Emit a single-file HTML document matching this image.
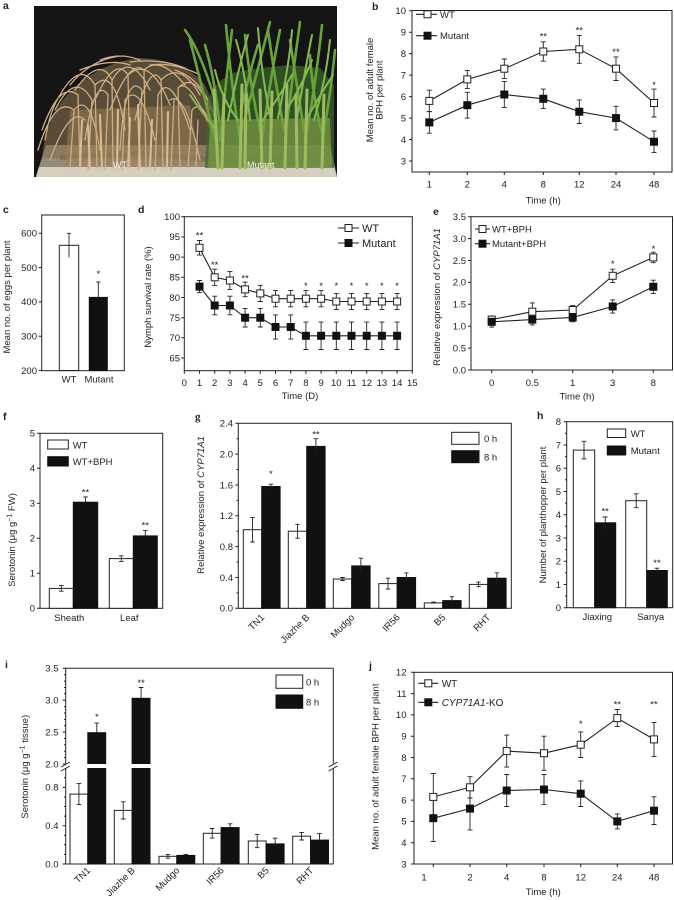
<!DOCTYPE html>
<html><head><meta charset="utf-8"><style>
html,body{margin:0;padding:0;background:#fff;}
svg{display:block;}
.ax{fill:none;stroke:#222;stroke-width:1;}
.eb{fill:none;stroke:#222;stroke-width:0.9;}
.ln{fill:none;stroke:#222;stroke-width:1.1;}
.w{fill:#fff;stroke:#222;stroke-width:1;}
.k{fill:#111;stroke:#111;stroke-width:1;}
.pl{font-weight:bold;font-size:10.5px;}
</style></head><body>
<svg width="674" height="900" viewBox="0 0 674 900" xmlns="http://www.w3.org/2000/svg" font-family="'Liberation Sans', Arial, sans-serif" font-size="9.5" fill="#222">

<!-- ============ PANEL A (photo) ============ -->
<text class="pl" x="3" y="9">a</text>
<g>
<rect x="34" y="6" width="303" height="171" fill="#141414"/>
<path d="M36,176 L337,176 L330,145 L46,145 Z" fill="#958a78"/>
<path d="M36,177 L337,177 L334,167 L39,167 Z" fill="#d6cfc0"/>
<path d="M60,158 Q120,150 180,157 T300,155" stroke="#6b5a40" stroke-width="5" fill="none" opacity="0.5"/>
<!-- WT haze -->
<path d="M42,158 Q46,115 70,92 Q100,62 140,58 Q185,60 205,85 Q218,110 216,160 Z" fill="#85704f" opacity="0.6"/>
<path d="M65,165 L70,110 L190,105 L200,165 Z" fill="#9a7f58" opacity="0.55"/>
<g fill="none" stroke="#cdae84" stroke-width="1.3" stroke-linecap="round">
<path d="M70,168 L74,110M80,168 L78,95M88,170 L92,100M97,168 L95,85M105,170 L108,95M113,168 L112,80M122,170 L125,100M130,168 L128,75M138,170 L142,90M146,168 L144,70M155,170 L158,95M163,168 L161,80M171,170 L174,100M180,168 L178,88M188,168 L192,110M196,166 L198,120"/>
<path d="M78,95 Q60,80 42,130M74,110 Q55,95 38,150M92,100 Q75,70 55,110M95,85 Q80,60 60,95M112,80 Q100,55 75,90M112,80 Q130,50 150,90M128,75 Q115,55 95,100M128,75 Q150,55 170,105M144,70 Q160,55 185,85M144,70 Q130,58 110,110M161,80 Q180,60 200,95M161,80 Q150,60 135,120M178,88 Q195,70 210,110M178,88 Q190,75 215,140M108,95 Q95,75 85,140M125,100 Q140,80 155,140M142,90 Q125,70 120,150M158,95 Q170,70 190,130M192,110 Q205,95 218,150M74,110 Q90,90 100,150M95,85 Q115,65 125,130M60,95 Q50,110 45,140M85,120 Q70,105 50,160M170,100 Q185,90 200,160M100,60 Q120,52 140,60M80,70 Q110,58 130,65M130,62 Q160,58 185,68M150,65 Q175,62 200,75M120,56 Q90,60 70,85M175,70 Q205,80 215,120"/>
</g>
<g fill="none" stroke="#dcbd92" stroke-width="2" stroke-linecap="round">
<path d="M80,168 L82,120M102,168 L100,115M117,168 L118,110M140,168 L138,105M167,168 L168,112M90,168 L88,125M128,168 L130,118M150,168 L152,120"/>
</g>
<!-- mutant -->
<path d="M205,168 L208,100 Q215,80 235,72 L260,68 L290,65 L320,68 L334,85 L334,168 Z" fill="#3a6a28" opacity="0.7"/>
<path d="M208,168 L210,120 L330,118 L332,168 Z" fill="#7f9a48" opacity="0.7"/>
<g fill="none" stroke-linecap="round">
<g stroke="#6aa23c" stroke-width="2.6">
<path d="M218,150 Q205,100 190,40M220,140 Q225,90 232,30M219,120 Q215,80 205,45M240,140 Q232,90 226,25M242,130 Q255,80 270,22M241,110 Q250,70 258,45M262,140 Q270,80 280,30M260,130 Q250,85 245,35M285,140 Q292,80 300,22M284,130 Q275,80 268,30M305,140 Q315,90 322,25M304,130 Q296,80 290,40M322,140 Q330,100 335,50M321,130 Q312,90 310,55M215,100 Q200,50 185,30"/>
</g>
<g stroke="#86b852" stroke-width="2">
<path d="M216,130 Q200,110 190,95M238,120 Q222,100 215,70M263,120 Q280,95 292,75M286,110 Q300,90 312,60M306,120 Q320,95 333,75M228,120 Q238,70 248,35M272,125 Q262,80 258,28M296,125 Q305,70 312,35M314,120 Q326,80 330,40M250,120 Q245,70 236,40M278,118 Q290,60 292,30"/>
</g>
<g stroke="#9fbb62" stroke-width="3">
<path d="M218,168 L214,90M222,168 L224,95M240,168 L242,85M245,168 L246,95M262,168 L260,90M270,168 L272,92M285,168 L287,85M297,168 L296,95M305,168 L307,90M322,168 L324,95"/>
</g>
</g>
<text x="113" y="168" fill="#f2f2f2" font-size="9">WT</text>
<text x="247" y="168" fill="#f2f2f2" font-size="9">Mutant</text>
</g>

<!-- ============ PANEL B ============ -->
<text class="pl" x="372" y="10">b</text>
<rect class="ax" x="412" y="10.5" width="260" height="161.5"/>
<path class="ax" d="M409,10.7h3M409,32.2h3M409,53.6h3M409,75.1h3M409,96.6h3M409,118.1h3M409,139.5h3M409,161h3M429.3,172v3M467.3,172v3M504.3,172v3M543.3,172v3M579.3,172v3M616,172v3M654,172v3"/>
<g text-anchor="end">
<text x="406" y="14">10</text><text x="406" y="35.5">9</text><text x="406" y="56.9">8</text><text x="406" y="78.4">7</text><text x="406" y="99.9">6</text><text x="406" y="121.4">5</text><text x="406" y="142.8">4</text><text x="406" y="164.3">3</text>
</g>
<g text-anchor="middle">
<text x="429.3" y="187.5">1</text><text x="467.3" y="187.5">2</text><text x="504.3" y="187.5">4</text><text x="543.3" y="187.5">8</text><text x="579.3" y="187.5">12</text><text x="616" y="187.5">24</text><text x="654" y="187.5">48</text>
<text x="543.3" y="203.5">Time (h)</text>
<text transform="translate(373,90) rotate(-90)">Mean no. of adult female</text>
<text transform="translate(382.5,90) rotate(-90)">BPH per plant</text>
<text x="543.3" y="39.5">**</text><text x="579.3" y="33.5">**</text><text x="616" y="55">**</text><text x="654" y="88">*</text>
</g>
<polyline class="ln" points="429.3,100.9 467.3,79.4 504.3,68.7 543.3,51.5 579.3,49.3 616,68.7 654,103"/>
<polyline class="ln" points="429.3,122.4 467.3,105.2 504.3,94.5 543.3,98.8 579.3,111.7 616,118.1 654,141.7"/>
<path class="eb" d="M429.3,90.2V111.6M426.8,90.2h5M426.8,111.6h5M467.3,70.4V88.4M464.8,70.4h5M464.8,88.4h5M504.3,59V78.4M501.8,59h5M501.8,78.4h5M543.3,41.8V61.2M540.8,41.8h5M540.8,61.2h5M579.3,35.4V63.3M576.8,35.4h5M576.8,63.3h5M616,56.9V80.5M613.5,56.9h5M613.5,80.5h5M654,89.1V117M651.5,89.1h5M651.5,117h5"/>
<path class="eb" d="M429.3,111.7V133.2M426.8,111.7h5M426.8,133.2h5M467.3,92.3V118.1M464.8,92.3h5M464.8,118.1h5M504.3,81.6V107.4M501.8,81.6h5M501.8,107.4h5M543.3,89.1V108.4M540.8,89.1h5M540.8,108.4h5M579.3,99.9V123.5M576.8,99.9h5M576.8,123.5h5M616,106.3V129.9M613.5,106.3h5M613.5,129.9h5M654,131V152.4M651.5,131h5M651.5,152.4h5"/>
<g class="w"><rect x="425.8" y="97.4" width="7" height="7"/><rect x="463.8" y="75.9" width="7" height="7"/><rect x="500.8" y="65.2" width="7" height="7"/><rect x="539.8" y="48" width="7" height="7"/><rect x="575.8" y="45.8" width="7" height="7"/><rect x="612.5" y="65.2" width="7" height="7"/><rect x="650.5" y="99.5" width="7" height="7"/></g>
<g class="k"><rect x="425.8" y="118.9" width="7" height="7"/><rect x="463.8" y="101.7" width="7" height="7"/><rect x="500.8" y="91" width="7" height="7"/><rect x="539.8" y="95.3" width="7" height="7"/><rect x="575.8" y="108.2" width="7" height="7"/><rect x="612.5" y="114.6" width="7" height="7"/><rect x="650.5" y="138.2" width="7" height="7"/></g>
<path class="ln" d="M416,14.3H437M416,35.7H437"/>
<rect class="w" x="424" y="10.8" width="7" height="7"/><rect class="k" x="424" y="32.2" width="7" height="7"/>
<text x="440" y="17.8">WT</text><text x="440" y="39.2">Mutant</text>

<!-- ============ PANEL C ============ -->
<text class="pl" x="3" y="213">c</text>
<rect class="ax" x="41.7" y="215" width="82.6" height="155.7"/>
<path class="ax" d="M38.7,370.5h3M38.7,336.2h3M38.7,301.9h3M38.7,267.6h3M38.7,233.3h3"/>
<g text-anchor="end"><text x="37" y="373.8">200</text><text x="37" y="339.5">300</text><text x="37" y="305.2">400</text><text x="37" y="270.9">500</text><text x="37" y="236.6">600</text></g>
<rect class="w" x="59.3" y="245.3" width="19.4" height="125.2"/>
<rect class="k" x="89.3" y="297.4" width="18" height="73.1"/>
<path class="eb" d="M69,233.3V257.3M67,233.3h4M98.3,282V297.4M96.3,282h4"/>
<g text-anchor="middle"><text x="98.3" y="277">*</text><text x="69" y="382.5">WT</text><text x="99" y="382.5">Mutant</text>
<text transform="translate(10,297) rotate(-90)">Mean no. of eggs per plant</text></g>

<!-- ============ PANEL D ============ -->
<text class="pl" x="138" y="213">d</text>
<rect class="ax" x="184.3" y="216.7" width="228" height="154"/>
<path class="ax" d="M181.3,216.7h3M181.3,236.9h3M181.3,257.1h3M181.3,277.3h3M181.3,297.5h3M181.3,317.7h3M181.3,337.8h3M181.3,358h3M184.3,370.7v3M199.5,370.7v3M214.7,370.7v3M229.9,370.7v3M245.1,370.7v3M260.3,370.7v3M275.5,370.7v3M290.7,370.7v3M305.9,370.7v3M321.1,370.7v3M336.3,370.7v3M351.5,370.7v3M366.7,370.7v3M381.9,370.7v3M397.1,370.7v3M412.3,370.7v3"/>
<g text-anchor="end"><text x="180" y="220">100</text><text x="180" y="240.2">95</text><text x="180" y="260.4">90</text><text x="180" y="280.6">85</text><text x="180" y="300.8">80</text><text x="180" y="321">75</text><text x="180" y="341.1">70</text><text x="180" y="361.3">65</text></g>
<g text-anchor="middle">
<text x="184.3" y="386">0</text><text x="199.5" y="386">1</text><text x="214.7" y="386">2</text><text x="229.9" y="386">3</text><text x="245.1" y="386">4</text><text x="260.3" y="386">5</text><text x="275.5" y="386">6</text><text x="290.7" y="386">7</text><text x="305.9" y="386">8</text><text x="321.1" y="386">9</text><text x="336.3" y="386">10</text><text x="351.5" y="386">11</text><text x="366.7" y="386">12</text><text x="381.9" y="386">13</text><text x="397.1" y="386">14</text><text x="412.3" y="386">15</text>
<text x="300" y="399">Time (D)</text>
<text transform="translate(151,297) rotate(-90)">Nymph survival rate (%)</text>
<text x="199.5" y="238.5">**</text><text x="214.7" y="268">**</text><text x="245.1" y="281.5">**</text>
<text x="305.9" y="289">*</text><text x="321.1" y="289">*</text><text x="336.3" y="289">*</text><text x="351.5" y="289">*</text><text x="366.7" y="289">*</text><text x="381.9" y="289">*</text><text x="397.1" y="289">*</text>
</g>
<polyline class="ln" points="199.5,247.8 214.7,277.3 229.9,280.5 245.1,289.4 260.3,293.4 275.5,298.7 290.7,298.7 305.9,298.7 321.1,298.7 336.3,301.5 351.5,301.5 366.7,301.5 381.9,301.5 397.1,301.5"/>
<polyline class="ln" points="199.5,286.6 214.7,305.5 229.9,305.5 245.1,317.7 260.3,317.7 275.5,327 290.7,327 305.9,335.8 321.1,335.8 336.3,335.8 351.5,335.8 366.7,335.8 381.9,335.8 397.1,335.8"/>
<path class="eb" d="M199.5,240.5V255.1M197,240.5h5M197,255.1h5M214.7,269.2V285.4M212.2,269.2h5M212.2,285.4h5M229.9,271.6V289.4M227.4,271.6h5M227.4,289.4h5M245.1,282.1V296.7M242.6,282.1h5M242.6,296.7h5M260.3,285.3V301.5M257.8,285.3h5M257.8,301.5h5M275.5,290.6V306.8M273,290.6h5M273,306.8h5M290.7,290.6V306.8M288.2,290.6h5M288.2,306.8h5M305.9,290.6V306.8M303.4,290.6h5M303.4,306.8h5M321.1,290.6V306.8M318.6,290.6h5M318.6,306.8h5M336.3,293.4V309.6M333.8,293.4h5M333.8,309.6h5M351.5,293.4V309.6M349,293.4h5M349,309.6h5M366.7,293.4V309.6M364.2,293.4h5M364.2,309.6h5M381.9,293.4V309.6M379.4,293.4h5M379.4,309.6h5M397.1,293.4V309.6M394.6,293.4h5M394.6,309.6h5"/>
<path class="eb" d="M199.5,280.5V292.7M197,280.5h5M197,292.7h5M214.7,296.2V314.8M212.2,296.2h5M212.2,314.8h5M229.9,296.2V314.8M227.4,296.2h5M227.4,314.8h5M245.1,308.4V327M242.6,308.4h5M242.6,327h5M260.3,308.4V327M257.8,308.4h5M257.8,327h5M275.5,314.9V339.1M273,314.9h5M273,339.1h5M290.7,314.9V339.1M288.2,314.9h5M288.2,339.1h5M305.9,322.1V349.5M303.4,322.1h5M303.4,349.5h5M321.1,322.1V349.5M318.6,322.1h5M318.6,349.5h5M336.3,322.1V349.5M333.8,322.1h5M333.8,349.5h5M351.5,322.1V349.5M349,322.1h5M349,349.5h5M366.7,322.1V349.5M364.2,322.1h5M364.2,349.5h5M381.9,322.1V349.5M379.4,322.1h5M379.4,349.5h5M397.1,322.1V349.5M394.6,322.1h5M394.6,349.5h5"/>
<g class="w"><rect x="196" y="244.3" width="7" height="7"/><rect x="211.2" y="273.8" width="7" height="7"/><rect x="226.4" y="277" width="7" height="7"/><rect x="241.6" y="285.9" width="7" height="7"/><rect x="256.8" y="289.9" width="7" height="7"/><rect x="272" y="295.2" width="7" height="7"/><rect x="287.2" y="295.2" width="7" height="7"/><rect x="302.4" y="295.2" width="7" height="7"/><rect x="317.6" y="295.2" width="7" height="7"/><rect x="332.8" y="298" width="7" height="7"/><rect x="348" y="298" width="7" height="7"/><rect x="363.2" y="298" width="7" height="7"/><rect x="378.4" y="298" width="7" height="7"/><rect x="393.6" y="298" width="7" height="7"/></g>
<g class="k"><rect x="196" y="283.1" width="7" height="7"/><rect x="211.2" y="302" width="7" height="7"/><rect x="226.4" y="302" width="7" height="7"/><rect x="241.6" y="314.2" width="7" height="7"/><rect x="256.8" y="314.2" width="7" height="7"/><rect x="272" y="323.5" width="7" height="7"/><rect x="287.2" y="323.5" width="7" height="7"/><rect x="302.4" y="332.3" width="7" height="7"/><rect x="317.6" y="332.3" width="7" height="7"/><rect x="332.8" y="332.3" width="7" height="7"/><rect x="348" y="332.3" width="7" height="7"/><rect x="363.2" y="332.3" width="7" height="7"/><rect x="378.4" y="332.3" width="7" height="7"/><rect x="393.6" y="332.3" width="7" height="7"/></g>
<path class="ln" d="M338,228H359M338,243H359"/>
<rect class="w" x="345" y="224.5" width="7" height="7"/><rect class="k" x="345" y="239.5" width="7" height="7"/>
<text x="362" y="232" font-size="11">WT</text><text x="362" y="247" font-size="11">Mutant</text>

<!-- ============ PANEL E ============ -->
<text class="pl" x="433" y="215">e</text>
<rect class="ax" x="471" y="216.7" width="201.5" height="153.3"/>
<path class="ax" d="M468,370h3M468,348.1h3M468,326.2h3M468,304.3h3M468,282.4h3M468,260.5h3M468,238.6h3M468,216.7h3M491.7,370v3M532.3,370v3M572.7,370v3M612.7,370v3M653.3,370v3"/>
<g text-anchor="end"><text x="466" y="373.3">0.0</text><text x="466" y="351.4">0.5</text><text x="466" y="329.5">1.0</text><text x="466" y="307.6">1.5</text><text x="466" y="285.7">2.0</text><text x="466" y="263.8">2.5</text><text x="466" y="241.9">3.0</text><text x="466" y="220">3.5</text></g>
<g text-anchor="middle">
<text x="491.7" y="386">0</text><text x="532.3" y="386">0.5</text><text x="572.7" y="386">1</text><text x="612.7" y="386">3</text><text x="653.3" y="386">8</text>
<text x="577" y="399.5">Time (h)</text>
<text transform="translate(440,297) rotate(-90)">Relative expression of <tspan font-style="italic">CYP71A1</tspan></text>
<text x="612.7" y="267">*</text><text x="653.3" y="252">*</text>
</g>
<polyline class="ln" points="491.7,319.6 532.3,311.7 572.7,310 612.7,275.8 653.3,257.4"/>
<polyline class="ln" points="491.7,321.8 532.3,319.6 572.7,317.4 612.7,306.5 653.3,286.8"/>
<path class="eb" d="M491.7,316.1V323.1M489.2,316.1h5M532.3,302.9V320.5M529.8,302.9h5M529.8,320.5h5M572.7,305.6V314.4M570.2,305.6h5M612.7,269.2V282.4M610.2,269.2h5M610.2,282.4h5M653.3,252.2V262.7M650.8,252.2h5M650.8,262.7h5"/>
<path class="eb" d="M491.7,316.6V327.1M489.2,327.1h5M532.3,314.4V324.9M529.8,324.9h5M572.7,313V321.8M570.2,321.8h5M612.7,299.9V313.1M610.2,299.9h5M610.2,313.1h5M653.3,280.2V293.4M650.8,280.2h5M650.8,293.4h5"/>
<g class="w"><rect x="488.2" y="316.1" width="7" height="7"/><rect x="528.8" y="308.2" width="7" height="7"/><rect x="569.2" y="306.5" width="7" height="7"/><rect x="609.2" y="272.3" width="7" height="7"/><rect x="649.8" y="253.9" width="7" height="7"/></g>
<g class="k"><rect x="488.2" y="318.3" width="7" height="7"/><rect x="528.8" y="316.1" width="7" height="7"/><rect x="569.2" y="313.9" width="7" height="7"/><rect x="609.2" y="303" width="7" height="7"/><rect x="649.8" y="283.3" width="7" height="7"/></g>
<path class="ln" d="M475,229h4M486,229h4M475,243.7h4M486,243.7h4"/>
<rect class="w" x="479" y="225.5" width="7" height="7"/><rect class="k" x="479" y="240.2" width="7" height="7"/>
<text x="492" y="232.5">WT+BPH</text><text x="492" y="247.2">Mutant+BPH</text>

<!-- ============ PANEL F ============ -->
<text class="pl" x="3" y="420">f</text>
<rect class="ax" x="40" y="433.3" width="122.7" height="175"/>
<path class="ax" d="M37,608.3h3M37,573.3h3M37,538.3h3M37,503.3h3M37,468.3h3M37,433.3h3"/>
<g text-anchor="end"><text x="35" y="611.6">0</text><text x="35" y="576.6">1</text><text x="35" y="541.6">2</text><text x="35" y="506.6">3</text><text x="35" y="471.6">4</text><text x="35" y="436.6">5</text></g>
<rect class="w" x="49.3" y="588.4" width="24" height="19.9"/>
<rect class="k" x="73.3" y="502.2" width="24.4" height="106.1"/>
<rect class="w" x="109.3" y="558.6" width="24" height="49.7"/>
<rect class="k" x="133.3" y="535.9" width="24" height="72.4"/>
<path class="eb" d="M61.3,585.6V591.2M59,585.6h4.6M59,591.2h4.6M85.5,496.9V502.2M83.2,496.9h4.6M121.3,555.8V561.4M119,555.8h4.6M119,561.4h4.6M145.3,530.6V535.9M143,530.6h4.6"/>
<rect class="w" x="47.7" y="440" width="20.6" height="9"/>
<rect class="k" x="47.7" y="456.7" width="20.6" height="9.3"/>
<text x="72.7" y="448.3">WT</text><text x="72.7" y="465.2">WT+BPH</text>
<g text-anchor="middle">
<text x="85.5" y="495.5">**</text><text x="145.3" y="528.5">**</text>
<text x="69.3" y="621">Sheath</text><text x="129.3" y="621">Leaf</text>
<text transform="translate(15,540) rotate(-90)">Serotonin (μg g<tspan dy="-3.5" font-size="7">−1</tspan><tspan dy="3.5"> FW)</tspan></text>
</g>

<!-- ============ PANEL G ============ -->
<text x="195" y="420" font-family="'Liberation Serif', serif" font-weight="bold" font-size="11">g</text>
<rect class="ax" x="238.3" y="423.3" width="273" height="185"/>
<path class="ax" d="M235.3,608.3h3M235.3,577.5h3M235.3,546.6h3M235.3,515.8h3M235.3,485h3M235.3,454.1h3M235.3,423.3h3M236.5,592.9h1.8M236.5,562.1h1.8M236.5,531.2h1.8M236.5,500.4h1.8M236.5,469.5h1.8M236.5,438.7h1.8"/>
<g text-anchor="end"><text x="233" y="611.6">0.0</text><text x="233" y="580.8">0.4</text><text x="233" y="549.9">0.8</text><text x="233" y="519.1">1.2</text><text x="233" y="488.3">1.6</text><text x="233" y="457.4">2.0</text><text x="233" y="426.6">2.4</text></g>
<g class="w"><rect x="243.3" y="529.7" width="18.4" height="78.6"/><rect x="288.3" y="531.2" width="18.4" height="77.1"/><rect x="333.3" y="579" width="18.4" height="29.3"/><rect x="378.8" y="583.6" width="18.4" height="24.7"/><rect x="424.3" y="602.9" width="18.4" height="5.4"/><rect x="469.3" y="584.4" width="18.4" height="23.9"/></g>
<g class="k"><rect x="261.7" y="486.5" width="18.4" height="121.8"/><rect x="306.7" y="446.4" width="18.4" height="161.9"/><rect x="351.7" y="565.9" width="18.4" height="42.4"/><rect x="397.2" y="577.5" width="18.4" height="30.8"/><rect x="442.7" y="600.6" width="18.4" height="7.7"/><rect x="487.7" y="578.2" width="18.4" height="30.1"/></g>
<path class="eb" d="M252.5,517.4V542M250.3,517.4h4.4M250.3,542h4.4M270.9,484.2V488.8M268.7,484.2h4.4M297.5,524.3V538.2M295.3,524.3h4.4M295.3,538.2h4.4M315.9,438.7V454.1M313.7,438.7h4.4M342.5,577.5V580.5M340.3,577.5h4.4M340.3,580.5h4.4M360.9,558.2V573.6M358.7,558.2h4.4M388,578.2V589M385.8,578.2h4.4M385.8,589h4.4M406.4,572.9V582.1M404.2,572.9h4.4M433.5,602.1V603.7M431.3,602.1h4.4M451.9,596.7V604.5M449.7,596.7h4.4M478.5,582.1V586.7M476.3,582.1h4.4M476.3,586.7h4.4M496.9,572.8V583.6M494.7,572.8h4.4"/>
<rect class="w" x="451.7" y="432.3" width="27.3" height="12"/>
<rect class="k" x="451.7" y="450.7" width="27.3" height="12"/>
<text x="484" y="442">0 h</text><text x="484" y="460.4">8 h</text>
<g text-anchor="middle"><text x="270.9" y="477">*</text><text x="315.9" y="437.5">**</text>
<text transform="translate(204,505) rotate(-90)">Relative expression of <tspan font-style="italic">CYP71A1</tspan></text></g>
<g text-anchor="end">
<text transform="translate(265,618) rotate(-45)">TN1</text>
<text transform="translate(310,618) rotate(-45)">Jiazhe B</text>
<text transform="translate(355,618) rotate(-45)">Mudgo</text>
<text transform="translate(400.5,618) rotate(-45)">IR56</text>
<text transform="translate(446,618) rotate(-45)">B5</text>
<text transform="translate(491,618) rotate(-45)">RHT</text>
</g>

<!-- ============ PANEL H ============ -->
<text class="pl" x="537" y="419">h</text>
<rect class="ax" x="566.7" y="421.7" width="106" height="186"/>
<path class="ax" d="M563.7,607.7h3M563.7,584.5h3M563.7,561.2h3M563.7,538h3M563.7,514.7h3M563.7,491.5h3M563.7,468.2h3M563.7,445h3M563.7,421.7h3M565,596.1h1.7M565,572.8h1.7M565,549.6h1.7M565,526.3h1.7M565,503.1h1.7M565,479.8h1.7M565,456.6h1.7M565,433.3h1.7"/>
<g text-anchor="end"><text x="561" y="611">0</text><text x="561" y="587.8">1</text><text x="561" y="564.5">2</text><text x="561" y="541.3">3</text><text x="561" y="518">4</text><text x="561" y="494.8">5</text><text x="561" y="471.5">6</text><text x="561" y="448.3">7</text><text x="561" y="425">8</text></g>
<rect class="w" x="573.3" y="450.1" width="21.4" height="157.6"/>
<rect class="k" x="594.7" y="522.8" width="21" height="84.9"/>
<rect class="w" x="625.7" y="500.7" width="21" height="107"/>
<rect class="k" x="646.7" y="570.5" width="20.6" height="37.2"/>
<path class="eb" d="M584,441.3V458.9M581.6,441.3h4.8M581.6,458.9h4.8M605.2,517V528.6M602.8,517h4.8M636.2,493.8V507.7M633.8,493.8h4.8M633.8,507.7h4.8M657,568.2V572.8M654.6,568.2h4.8"/>
<rect class="w" x="607.3" y="429" width="18.4" height="8.5"/>
<rect class="k" x="607.3" y="446" width="18.4" height="9"/>
<text x="630.7" y="437">WT</text><text x="630.7" y="454">Mutant</text>
<g text-anchor="middle"><text x="605.2" y="514.5">**</text><text x="657" y="566">**</text>
<text x="597.3" y="620">Jiaxing</text><text x="650.7" y="620">Sanya</text>
<text transform="translate(546,515) rotate(-90)">Number of planthopper per plant</text></g>

<!-- ============ PANEL I ============ -->
<text class="pl" x="5" y="668">i</text>
<path class="ax" d="M65.7,668.3H333.3M65.7,864H333.3M65.7,668.3V763.5M65.7,768.5V864M333.3,668.3V763.5M333.3,768.5V864"/>
<path class="ax" d="M61,767l9,-5M61,771l9,-5M328.6,767l9,-5M328.6,771l9,-5"/>
<path class="ax" d="M62.7,668.3h3M62.7,700.2h3M62.7,732.1h3M62.7,764h3M62.7,787.4h3M62.7,825.7h3M62.7,864h3M64,674.7h1.7M64,681.1h1.7M64,687.5h1.7M64,693.8h1.7M64,706.6h1.7M64,713h1.7M64,719.4h1.7M64,725.7h1.7M64,738.5h1.7M64,744.9h1.7M64,751.3h1.7M64,757.6h1.7M64,777.8h1.7M64,797h1.7M64,806.5h1.7M64,816.1h1.7M64,835.3h1.7M64,844.8h1.7M64,854.4h1.7"/>
<g text-anchor="end"><text x="58.5" y="671.6">3.5</text><text x="58.5" y="703.5">3.0</text><text x="58.5" y="735.4">2.5</text><text x="58.5" y="767.3">2.0</text><text x="58.5" y="790.7">0.8</text><text x="58.5" y="829">0.4</text><text x="58.5" y="867.3">0.0</text></g>
<g class="w"><rect x="70" y="794.1" width="17.8" height="69.9"/><rect x="114.3" y="810.4" width="17.8" height="53.6"/><rect x="159" y="856.3" width="17.8" height="7.7"/><rect x="203.3" y="833.3" width="17.8" height="30.7"/><rect x="248.3" y="841" width="17.8" height="23"/><rect x="292.7" y="836.2" width="17.8" height="27.8"/></g>
<g class="k"><rect x="87.8" y="732.7" width="17.9" height="30.8"/><rect x="87.8" y="768.5" width="17.9" height="95.5"/><rect x="132.1" y="698.3" width="17.9" height="65.2"/><rect x="132.1" y="768.5" width="17.9" height="95.5"/><rect x="176.8" y="855.4" width="18" height="8.6"/><rect x="221.1" y="827.6" width="18" height="36.4"/><rect x="266.1" y="843.9" width="18" height="20.1"/><rect x="310.5" y="840.1" width="18" height="23.9"/></g>
<path class="eb" d="M78.9,783.6V804.6M76.6,783.6h4.6M76.6,804.6h4.6M96.8,723.1V732.7M94.5,723.1h4.6M123.2,801.8V819M120.9,801.8h4.6M120.9,819h4.6M141.1,687.5V698.3M138.8,687.5h4.6M167.9,854.4V858.2M165.6,854.4h4.6M165.6,858.2h4.6M185.8,854.4V855.4M183.5,854.4h4.6M212.2,828.5V838.1M209.9,828.5h4.6M209.9,838.1h4.6M230.1,823.8V827.6M227.8,823.8h4.6M257.2,834.3V847.7M254.9,834.3h4.6M254.9,847.7h4.6M275.1,838.2V843.9M272.8,838.2h4.6M301.6,832.4V840M299.3,832.4h4.6M299.3,840h4.6M319.5,833.4V840.1M317.2,833.4h4.6"/>
<rect class="w" x="276" y="675" width="26.7" height="13.3"/>
<rect class="k" x="276" y="695" width="26.7" height="13.3"/>
<text x="306" y="685.3">0 h</text><text x="306" y="705.3">8 h</text>
<g text-anchor="middle"><text x="96.8" y="720">*</text><text x="141.1" y="686">**</text>
<text transform="translate(28,766.7) rotate(-90)">Serotonin (μg g<tspan dy="-3.5" font-size="7">−1</tspan><tspan dy="3.5"> tissue)</tspan></text></g>
<g text-anchor="end">
<text transform="translate(91,871) rotate(-45)">TN1</text>
<text transform="translate(135.5,871) rotate(-45)">Jiazhe B</text>
<text transform="translate(180,871) rotate(-45)">Mudgo</text>
<text transform="translate(224.5,871) rotate(-45)">IR56</text>
<text transform="translate(269.5,871) rotate(-45)">B5</text>
<text transform="translate(314,871) rotate(-45)">RHT</text>
</g>

<!-- ============ PANEL J ============ -->
<text class="pl" x="369" y="669">j</text>
<rect class="ax" x="414" y="672.3" width="258.5" height="191.7"/>
<path class="ax" d="M411,864h3M411,842.7h3M411,821.4h3M411,800.1h3M411,778.8h3M411,757.5h3M411,736.2h3M411,714.9h3M411,693.6h3M411,672.3h3M433.3,864v3M470,864v3M506.7,864v3M544,864v3M580.7,864v3M617.3,864v3M654,864v3"/>
<g text-anchor="end"><text x="406.5" y="867.3">3</text><text x="406.5" y="846">4</text><text x="406.5" y="824.7">5</text><text x="406.5" y="803.4">6</text><text x="406.5" y="782.1">7</text><text x="406.5" y="760.8">8</text><text x="406.5" y="739.5">9</text><text x="406.5" y="718.2">10</text><text x="406.5" y="696.9">11</text><text x="406.5" y="675.6">12</text></g>
<g text-anchor="middle">
<text x="424" y="880.5">1</text><text x="470" y="880.5">2</text><text x="506.7" y="880.5">4</text><text x="544" y="880.5">8</text><text x="580.7" y="880.5">12</text><text x="617.3" y="880.5">24</text><text x="654" y="880.5">48</text>
<text x="543.3" y="895">Time (h)</text>
<text transform="translate(378.5,766.7) rotate(-90)">Mean no. of adult female BPH per plant</text>
<text x="580.7" y="727">*</text><text x="617.3" y="707.5">**</text><text x="654" y="707.5">**</text>
</g>
<polyline class="ln" points="433.3,796.9 470,787.3 506.7,751.1 544,753.2 580.7,744.7 617.3,718.1 654,739.4"/>
<polyline class="ln" points="433.3,818.2 470,808.6 506.7,790.5 544,789.5 580.7,793.7 617.3,821.4 654,810.7"/>
<path class="eb" d="M433.3,773.5V820.3M430.8,773.5h5M430.8,820.3h5M470,776.7V798M467.5,776.7h5M467.5,798h5M506.7,735.1V767.1M504.2,735.1h5M504.2,767.1h5M544,736.2V770.3M541.5,736.2h5M541.5,770.3h5M580.7,731.9V757.5M578.2,731.9h5M578.2,757.5h5M617.3,709.5V726.6M614.8,709.5h5M614.8,726.6h5M654,722.4V756.4M651.5,722.4h5M651.5,756.4h5"/>
<path class="eb" d="M433.3,794.8V841.6M430.8,794.8h5M430.8,841.6h5M470,787.3V829.9M467.5,787.3h5M467.5,829.9h5M506.7,774.5V806.5M504.2,774.5h5M504.2,806.5h5M544,774.5V804.4M541.5,774.5h5M541.5,804.4h5M580.7,780.9V806.5M578.2,780.9h5M578.2,806.5h5M617.3,813.9V828.9M614.8,813.9h5M614.8,828.9h5M654,796.8V824.5M651.5,796.8h5M651.5,824.5h5"/>
<g class="w"><rect x="429.8" y="793.4" width="7" height="7"/><rect x="466.5" y="783.8" width="7" height="7"/><rect x="503.2" y="747.6" width="7" height="7"/><rect x="540.5" y="749.7" width="7" height="7"/><rect x="577.2" y="741.2" width="7" height="7"/><rect x="613.8" y="714.6" width="7" height="7"/><rect x="650.5" y="735.9" width="7" height="7"/></g>
<g class="k"><rect x="429.8" y="814.7" width="7" height="7"/><rect x="466.5" y="805.1" width="7" height="7"/><rect x="503.2" y="787" width="7" height="7"/><rect x="540.5" y="786" width="7" height="7"/><rect x="577.2" y="790.2" width="7" height="7"/><rect x="613.8" y="817.9" width="7" height="7"/><rect x="650.5" y="807.2" width="7" height="7"/></g>
<path class="ln" d="M418.3,683.3H438.3M418.3,702.3H438.3"/>
<rect class="w" x="424.8" y="679.8" width="7" height="7"/><rect class="k" x="424.8" y="698.8" width="7" height="7"/>
<text x="441.7" y="686.8" font-size="10">WT</text><text x="441.7" y="705.8" font-size="10"><tspan font-style="italic">CYP71A1</tspan>-KO</text>

</svg>
</body></html>
